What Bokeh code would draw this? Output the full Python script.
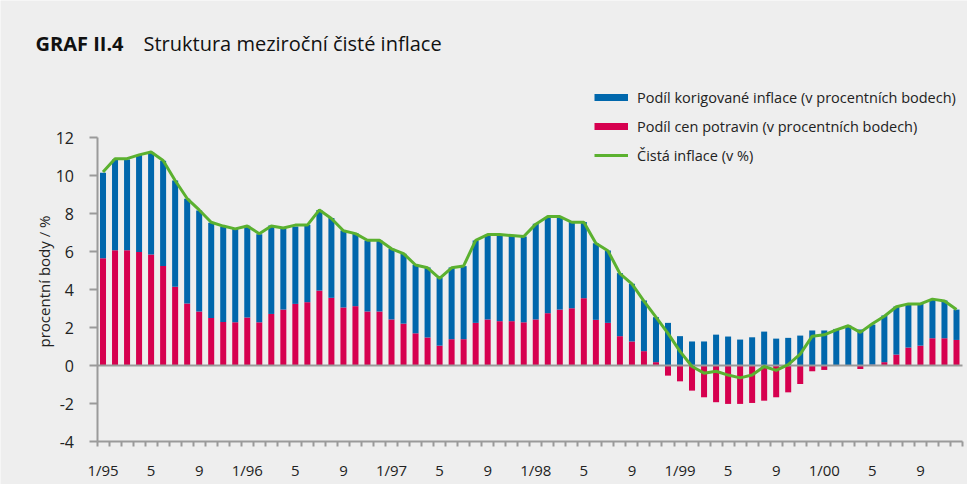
import math
from bokeh.plotting import figure
from bokeh.models import (ColumnDataSource, FixedTicker, Label, Legend,
                          LegendItem, Range1d)
from bokeh.embed import file_html
from bokeh.resources import INLINE

# ---------------- data ----------------
months = list(range(72))  # 1/1995 .. 12/2000
tick_positions = [0, 4, 8, 12, 16, 20, 24, 28, 32, 36, 40, 44, 48, 52, 56, 60, 64, 68]
tick_labels = ["1/95", "5", "9", "1/96", "5", "9", "1/97", "5", "9",
               "1/98", "5", "9", "1/99", "5", "9", "1/00", "5", "9"]
y_ticks = [-4, -2, 0, 2, 4, 6, 8, 10, 12]
y_tick_labels = ["-4", "-2", "0", "2", "4", "6", "8", "10", "12"]

# share of food prices (percentage points)
food = [5.66, 6.08, 6.08, 5.98, 5.85, 5.25, 4.15, 3.27, 2.85, 2.50, 2.30, 2.28,
        2.53, 2.28, 2.72, 2.95, 3.25, 3.34, 3.95, 3.57, 3.06, 3.13, 2.85, 2.85,
        2.43, 2.21, 1.70, 1.48, 1.05, 1.39, 1.39, 2.25, 2.43, 2.34, 2.34, 2.28,
        2.43, 2.76, 2.95, 3.02, 3.55, 2.41, 2.25, 1.55, 1.27, 0.76, 0.18, -0.53,
        -0.83, -1.32, -1.67, -1.93, -2.02, -2.02, -1.97, -1.85, -1.67, -1.41, -0.97, -0.30,
        -0.23, -0.02, 0.00, -0.18, 0.05, 0.18, 0.58, 0.95, 1.05, 1.44, 1.44, 1.35]

# share of core (adjusted) inflation (percentage points)
core = [4.50, 4.78, 4.78, 5.12, 5.40, 5.54, 5.60, 5.52, 5.32, 5.02, 5.03, 4.93,
        4.83, 4.64, 4.66, 4.29, 4.08, 4.08, 4.24, 4.20, 4.06, 3.85, 3.74, 3.74,
        3.72, 3.68, 3.61, 3.69, 3.57, 3.78, 3.85, 4.34, 4.46, 4.53, 4.51, 4.52,
        5.04, 5.06, 4.87, 4.54, 4.01, 4.04, 3.81, 3.32, 3.04, 2.67, 2.37, 2.25,
        1.55, 1.27, 1.27, 1.63, 1.53, 1.37, 1.49, 1.79, 1.42, 1.46, 1.58, 1.85,
        1.85, 1.93, 2.11, 1.90, 2.11, 2.46, 2.53, 2.30, 2.20, 2.07, 1.99, 1.60]

# net inflation (%)
net = [10.20, 10.90, 10.90, 11.10, 11.25, 10.80, 9.75, 8.80, 8.20, 7.55, 7.35, 7.20,
       7.35, 6.95, 7.35, 7.25, 7.40, 7.40, 8.20, 7.75, 7.10, 6.95, 6.60, 6.60,
       6.15, 5.90, 5.30, 5.15, 4.60, 5.15, 5.25, 6.60, 6.90, 6.90, 6.85, 6.80,
       7.45, 7.85, 7.85, 7.55, 7.55, 6.45, 6.05, 4.85, 4.30, 3.40, 2.55, 1.70,
       0.75, -0.05, -0.40, -0.30, -0.50, -0.65, -0.50, -0.05, -0.25, 0.05, 0.60, 1.55,
       1.62, 1.88, 2.10, 1.75, 2.20, 2.60, 3.10, 3.25, 3.25, 3.50, 3.40, 2.95]

label_core = "Podíl korigované inflace (v procentních bodech)"
label_food = "Podíl cen potravin (v procentních bodech)"
label_net = "Čistá inflace (v %)"
title_bold = "GRAF II.4"
title_text = "Struktura meziroční čisté inflace"
y_label = "procentní body / %"

# ---------------- style / layout ----------------
BG = "#EEEEEE"
BLUE = "#0067AC"
RED = "#D6004F"
GREEN = "#5BB12F"
AXIS = "#9A9A9A"
TXT = "#222222"
FONT = "Open Sans"

W, H = 967, 484
AX_LEFT, AX_RIGHT = 96.5, 962.0      # pixel span of months[0]-0.5 .. months[-1]+0.5
AX_BOTTOM, AX_TOP = 441.0, 137.3     # pixel of y = -4 and y = 12
x_lo, x_hi = months[0] - 0.5, months[-1] + 0.5
sx = (AX_RIGHT - AX_LEFT) / (x_hi - x_lo)
sy = (AX_BOTTOM - AX_TOP) / (y_ticks[-1] - y_ticks[0])
x_start = x_lo - AX_LEFT / sx
x_end = x_lo + (W - AX_LEFT) / sx
y_start = y_ticks[0] - (H - AX_BOTTOM) / sy
y_end = y_ticks[0] + AX_BOTTOM / sy

blue_bottom = [max(f, 0.0) for f in food]
blue_top = [max(f, 0.0) + c for f, c in zip(food, core)]
src = ColumnDataSource(dict(x=months, food=food, zero=[0.0] * len(months),
                            bb=blue_bottom, bt=blue_top, net=net))

p = figure(width=W, height=H, x_range=Range1d(x_start, x_end), y_range=Range1d(y_start, y_end),
           output_backend="svg", toolbar_location=None,
           min_border_left=0, min_border_right=0, min_border_top=0, min_border_bottom=0,
           background_fill_color=BG, border_fill_color=BG, outline_line_color=None)
p.grid.visible = False

p.vbar(x="x", bottom="zero", top="food", width=0.5, source=src,
       fill_color=RED, line_color=None)
p.vbar(x="x", bottom="bb", top="bt", width=0.5, source=src,
       fill_color=BLUE, line_color=None)

# zero line across the axis span
p.segment(x0=[x_lo], y0=[0], x1=[x_hi], y1=[0], line_color=AXIS, line_width=2)

p.line(x="x", y="net", source=src, line_color=GREEN, line_width=3, level="overlay")

# legend swatches (single-point lines: nothing drawn in the plot)
d_blue = p.line(x=[months[0]], y=[0], line_color=BLUE, line_width=7, line_cap="butt")
d_red = p.line(x=[months[0]], y=[0], line_color=RED, line_width=7, line_cap="butt")
d_green = p.line(x=[months[0]], y=[0], line_color=GREEN, line_width=3, line_cap="butt")
legend = Legend(items=[LegendItem(label=label_core, renderers=[d_blue]),
                       LegendItem(label=label_food, renderers=[d_red]),
                       LegendItem(label=label_net, renderers=[d_green])],
                location=(594, int(H - 165)), glyph_width=34, glyph_height=20,
                label_height=20, spacing=9, label_standoff=9, padding=0, margin=0,
                border_line_color=None, background_fill_alpha=0,
                label_text_font=FONT, label_text_font_size="14.5px", label_text_color=TXT)
p.add_layout(legend)

# x axis, drawn at y = -4
xa = p.xaxis[0]
xa.fixed_location = y_ticks[0]
xa.bounds = (x_lo, x_hi)
xa.ticker = FixedTicker(ticks=tick_positions, minor_ticks=[m - 0.5 for m in months + [len(months)]])
xa.major_label_overrides = {t: l for t, l in zip(tick_positions, tick_labels)}
xa.major_tick_out = 0
xa.major_tick_in = 0
xa.minor_tick_out = 5
xa.minor_tick_in = 0
xa.minor_tick_line_color = AXIS
xa.minor_tick_line_width = 2
xa.axis_line_color = AXIS
xa.axis_line_width = 2
xa.major_label_standoff = 13
xa.major_label_text_font = FONT
xa.major_label_text_font_size = "15px"
xa.major_label_text_color = TXT

# y axis, drawn at the left edge of the month span
ya = p.yaxis[0]
ya.fixed_location = x_lo
ya.bounds = (y_ticks[0], y_ticks[-1])
ya.ticker = FixedTicker(ticks=y_ticks, minor_ticks=[])
ya.major_label_overrides = {t: l for t, l in zip(y_ticks, y_tick_labels)}
ya.major_tick_out = 8
ya.major_tick_in = 0
ya.major_tick_line_color = AXIS
ya.major_tick_line_width = 2
ya.minor_tick_out = 0
ya.minor_tick_in = 0
ya.axis_line_color = AXIS
ya.axis_line_width = 2
ya.major_label_standoff = 15
ya.major_label_text_font = FONT
ya.major_label_text_font_size = "16px"
ya.major_label_text_color = TXT

# y axis title (rotated)
p.add_layout(Label(x=43, y=H - 281, x_units="screen", y_units="screen", text=y_label,
                   angle=math.pi / 2, text_align="center", text_baseline="middle",
                   text_font=FONT, text_font_size="15px", text_color=TXT))

# title
p.add_layout(Label(x=35, y=H - 42.5, x_units="screen", y_units="screen", text=title_bold,
                   text_font=FONT, text_font_style="bold", text_font_size="20px",
                   text_color="#111111", text_baseline="middle"))
p.add_layout(Label(x=143, y=H - 42.5, x_units="screen", y_units="screen",
                   text=title_text, text_font=FONT, text_font_size="20px",
                   text_color="#111111", text_baseline="middle"))

open("out.html", "w").write(file_html(p, INLINE))
